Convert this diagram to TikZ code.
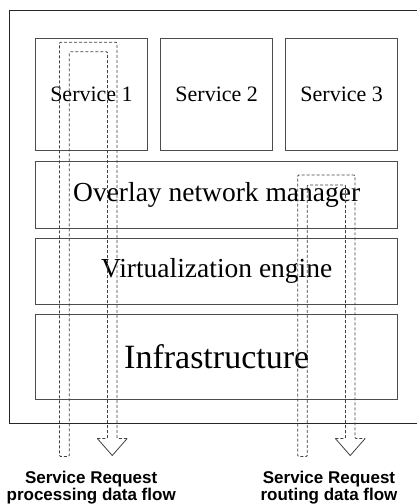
\documentclass[tikz,border=0pt]{standalone}
\usepackage{fontspec}
\setmainfont{Liberation Serif}
\setsansfont{Liberation Sans}
\usepackage{tikz}
\usetikzlibrary{positioning}

\begin{document}
\begin{tikzpicture}[x=1pt, y=-1pt,
        layer/.style = {draw=black!70, line width=1pt, inner sep=0pt, minimum width=362.3pt},
        service/.style = {draw=black!70, line width=1pt, inner sep=0pt, minimum width=112.5pt, minimum height=111.5pt, font=\fontsize{22}{26}\selectfont},
        flow/.style = {draw=black!75, line width=0.8pt, dash pattern=on 3pt off 2pt, rounded corners=1pt},
        head/.style = {draw=black!75, line width=0.8pt},
        caption/.style = {align=center, font=\sffamily\bfseries\fontsize{17}{17}\selectfont}]
                \useasboundingbox (0,0) rectangle (417,504);
                \draw[black!85, line width=1pt] (417,10) -- (9,10) -- (9,423.3) -- (417,423.3);

                \node[service] at (91.5, 94.5) (S1) {Service 1};
                \node[service] at (216.7, 94.5) (S2) {Service 2};
                \node[service] at (341.7, 94.5) (S3) {Service 3};

                \node[layer, minimum height=66.6pt, font=\fontsize{27.5}{32}\selectfont] at (216.7, 195) (overlay) {Overlay network manager};
                \node[layer, minimum height=66pt, font=\fontsize{27.5}{32}\selectfont] at (216.7, 271.3) (virt) {Virtualization engine};
                \node[layer, minimum height=85.3pt, font=\fontsize{34}{40}\selectfont] at (216.7, 356.7) (infra) {Infrastructure};

                % processing flow
                \draw[flow] (97.3,438.5) -- (107.5,438.5) -- (107.5,51.7) -- (69.3,51.7) -- (69.3,456.5)
                        -- (59.5,456.5) -- (59.5,42.3) -- (117,42.3) -- (117,438.5) -- (127.2,438.5);
                \draw[head] (127.2,438.5) -- (112.25,455.5) -- (97.3,438.5);

                % routing flow
                \draw[flow] (335.3,438.5) -- (345.5,438.5) -- (345.5,185) -- (307.3,185) -- (307.3,456.5)
                        -- (297.7,456.5) -- (297.7,175) -- (355,175) -- (355,438.5) -- (365.2,438.5);
                \draw[head] (365.2,438.5) -- (350.25,455.5) -- (335.3,438.5);

                \node[caption] at (91.2, 487.5) (processing) {Service Request\\processing data flow};
                \node[caption] at (329, 487.5) (routing) {Service Request\\routing data flow};
            \end{tikzpicture}
\end{document}
